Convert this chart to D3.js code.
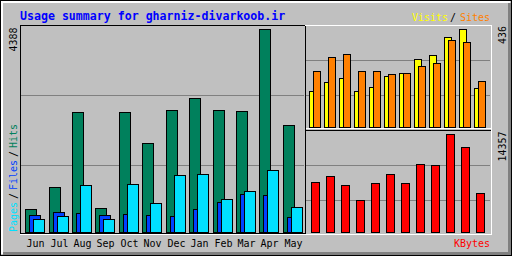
<!DOCTYPE html>
<html><head><meta charset="utf-8">
<script src="https://cdn.jsdelivr.net/npm/d3@7"></script>
<style>html,body{margin:0;padding:0;background:#c0c0c0;} svg{display:block}</style>
</head><body>
<script>
const months = ["Jun","Jul","Aug","Sep","Oct","Nov","Dec","Jan","Feb","Mar","Apr","May"];
const hits   = [491,966,2587,512,2587,1917,2631,2890,2631,2609,4388,2306];
const files  = [361,426,404,361,383,361,339,491,642,815,793,318];
const pages  = [275,339,1009,275,1031,620,1225,1247,707,880,1334,534];
const visits = [160,200,217,160,177,226,240,301,319,399,436,172];
const sites  = [248,310,323,248,248,234,240,270,283,386,377,203];
const kbytes = [7281,8160,6841,4644,7135,8453,7135,9918,9772,14357,12409,5670];
const title = "Usage summary for gharniz-divarkoob.ir";
const maxMainLabel = "4388", maxVisitLabel = "436", maxKBLabel = "14357";
const legendHits = ["Pages","/","Files","/","Hits"];
const legendVS = ["Visits","/","Sites"];
const legendKB = "KBytes";

const C = {bg:"#c0c0c0", dk:"#808080", black:"#000", white:"#fff", title:"#0000ff",
  hits:"#00805c", files:"#0040ff", pages:"#00e0ff", visits:"#ffff00", sites:"#ff8000", kb:"#ff0000"};
const FONT = "DejaVu Sans Mono";

const W = 512, H = 256;
const svg = d3.select("body").append("svg").attr("width", W).attr("height", H);

function px(x1, y1, x2, y2, color) {
  svg.append("rect").attr("x", x1).attr("y", y1)
    .attr("width", x2 - x1 + 1).attr("height", y2 - y1 + 1).attr("fill", color);
}
function bar(x, yTop, w, bottom, color) {
  const xi = Math.round(x), yi = Math.round(yTop);
  svg.append("rect").attr("x", xi + 0.5).attr("y", yi + 0.5)
    .attr("width", w - 1).attr("height", bottom - yi)
    .attr("fill", color).attr("stroke", C.black).attr("stroke-width", 1);
}

// background + outer frame
px(0, 0, W - 1, H - 1, C.black);
px(1, 1, W - 2, H - 2, C.bg);
px(1, 1, W - 3, 2, C.white);
px(1, 1, 2, H - 3, C.white);
px(3, H - 4, W - 2, H - 2, C.dk);
px(W - 4, 3, W - 2, H - 2, C.dk);

// scales
const xMain = d3.scaleBand().domain(months).range([25.2, 25.2 + 12 * 23.43]);
const xSide = d3.scaleBand().domain(months).range([309, 309 + 12 * 15]);
const yMain = d3.scaleLinear().domain([0, +maxMainLabel]).range([232, 29]);
const yTop  = d3.scaleLinear().domain([0, +maxVisitLabel]).range([127, 29]);
const yBot  = d3.scaleLinear().domain([0, +maxKBLabel]).range([232, 134]);

// grid lines
[1, 2].forEach(i => {
  px(21, 25 + i * 70, 303, 25 + i * 70, C.dk);
  px(306, 25 + i * 35, 489, 25 + i * 35, C.dk);
  px(306, 130 + i * 35, 489, 130 + i * 35, C.dk);
});

// main bars
months.forEach((m, i) => {
  const x = Math.round(xMain(m));
  bar(x, yMain(hits[i]), 12, 232, C.hits);
  bar(x + 4, yMain(files[i]), 12, 232, C.files);
  bar(x + 8, yMain(pages[i]), 12, 232, C.pages);
});
// visits / sites
months.forEach((m, i) => {
  const x = Math.round(xSide(m));
  bar(x, yTop(visits[i]), 8, 127, C.visits);
  bar(x + 4, yTop(sites[i]), 8, 127, C.sites);
  bar(x + 2, yBot(kbytes[i]), 9, 232, C.kb);
});

// frame lines
px(20, 25, 304, 25, C.black);
px(20, 25, 20, 233, C.black);
px(20, 233, 305, 233, C.black);
px(305, 25, 305, 233, C.black);
px(305, 25, 491, 25, C.white);
px(20, 234, 491, 234, C.white);
px(491, 25, 491, 234, C.white);
px(306, 128, 490, 128, C.white);
px(305, 130, 490, 130, C.black);

// texts
svg.append("text").attr("x", 20).attr("y", 19.7).text(title)
  .attr("font-family", FONT).attr("font-weight", "bold").attr("font-size", 11.6)
  .attr("fill", C.title);

const small = sel => sel.attr("font-family", FONT).attr("font-size", 10);

small(svg.append("g").selectAll("text").data(months).join("text")
  .attr("x", m => Math.round(xMain(m)) + 10.5).attr("y", 246.7)
  .attr("text-anchor", "middle").attr("fill", C.black).text(m => m));

function upText(x, y, str, color) {
  small(svg.append("text").attr("transform", `translate(${x},${y}) rotate(-90)`)
    .attr("fill", color).text(str));
}
upText(17, 51.5, maxMainLabel, C.black);
upText(505.5, 44, maxVisitLabel, C.black);
upText(505.5, 161.5, maxKBLabel, C.black);

const hitsColors = [C.pages, C.black, C.files, C.black, C.hits];
let yy = 232;
legendHits.forEach((s, i) => {
  upText(17, yy, s, hitsColors[i]);
  yy -= s.length * 6 + 3;
});

const vsColors = [C.visits, C.black, C.sites];
const vsX = [412, 450, 460];
legendVS.forEach((s, i) => {
  small(svg.append("text").attr("x", vsX[i]).attr("y", 21).attr("fill", vsColors[i]).text(s));
});
small(svg.append("text").attr("x", 454).attr("y", 246.7).attr("fill", C.kb).text(legendKB));
</script>
</body></html>
